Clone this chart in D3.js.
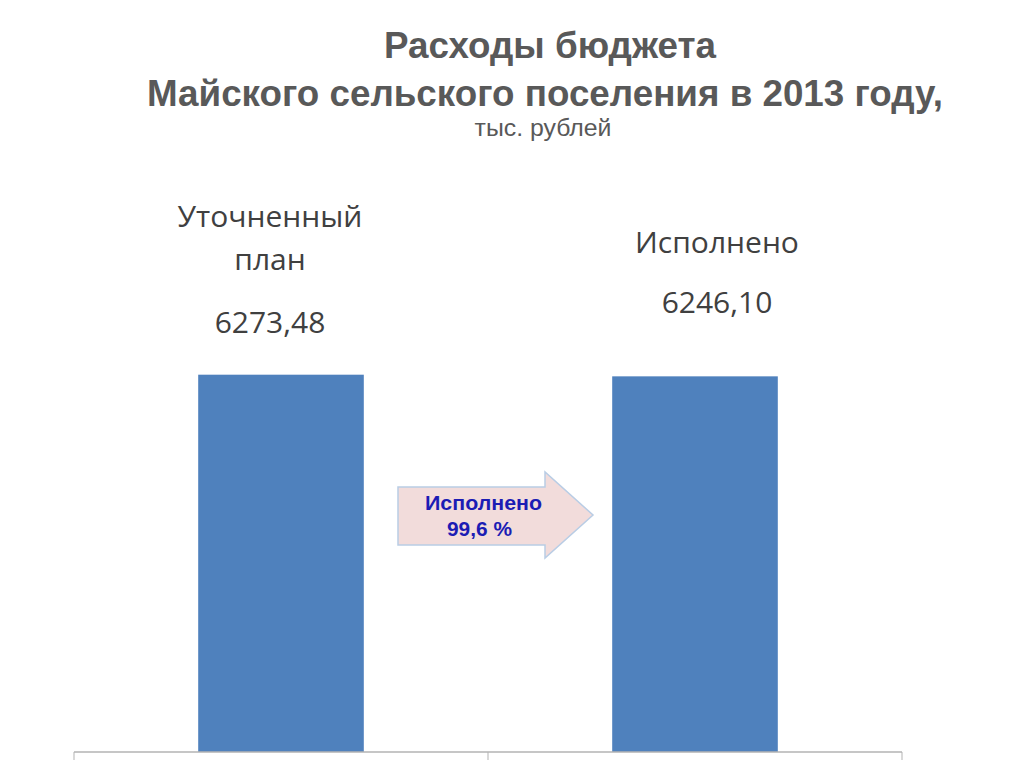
<!DOCTYPE html>
<html><head><meta charset="utf-8">
<script src="https://cdn.jsdelivr.net/npm/d3@7"></script>
<style>body{margin:0;background:#fff}svg{display:block}</style>
</head><body>
<script>
const categories = ["Уточненный план", "Исполнено"];
const categoryLines = [["Уточненный", "план"], ["Исполнено"]];
const values = [6273.48, 6246.10];
const valueLabels = ["6273,48", "6246,10"];
const titleLines = ["Расходы бюджета", "Майского сельского поселения в 2013 году,"];
const subtitle = "тыс. рублей";
const arrowText = ["Исполнено", "99,6 %"];

const W = 1024, H = 768;
const svg = d3.select("body").append("svg").attr("width", W).attr("height", H);

const x = d3.scaleBand().domain(categories).range([74, 902]).paddingInner(0.6).paddingOuter(0.3);
const y = d3.scaleLinear().domain([0, 7000]).range([752, 331]);

// title
const tFont = "Liberation Sans, Arial, sans-serif";
svg.append("text").attr("x", 550).attr("y", 58).attr("text-anchor", "middle")
  .attr("font-family", tFont).attr("font-weight", "bold")
  .attr("font-size", 36).attr("fill", "#595959")
  .attr("textLength", 332).attr("lengthAdjust", "spacingAndGlyphs").text(titleLines[0]);
svg.append("text").attr("x", 545).attr("y", 106).attr("text-anchor", "middle")
  .attr("font-family", tFont).attr("font-weight", "bold")
  .attr("font-size", 36).attr("fill", "#595959")
  .attr("textLength", 796).attr("lengthAdjust", "spacingAndGlyphs").text(titleLines[1]);
svg.append("text").attr("x", 543).attr("y", 136).attr("text-anchor", "middle")
  .attr("font-family", tFont)
  .attr("font-size", 24).attr("fill", "#595959")
  .attr("textLength", 137).attr("lengthAdjust", "spacingAndGlyphs").text(subtitle);

// bars
svg.selectAll("rect.bar").data(values).join("rect").attr("class", "bar")
  .attr("x", (d, i) => x(categories[i])).attr("width", x.bandwidth())
  .attr("y", d => y(d)).attr("height", d => y(0) - y(d))
  .attr("fill", "#4f81bd");

// axis
const axis = svg.append("g").attr("transform", `translate(0,${y(0)})`);
axis.append("line").attr("x1", 74).attr("x2", 902).attr("stroke", "#b3b3b3").attr("stroke-width", 1.5);
const tickXs = [74].concat(categories.map(c => x(c) + x.bandwidth() / 2 + x.step() / 2));
axis.selectAll("line.tick").data(tickXs).join("line").attr("class", "tick")
  .attr("x1", d => d).attr("x2", d => d).attr("y1", 0).attr("y2", 8)
  .attr("stroke", "#b3b3b3").attr("stroke-width", 1);

// category labels and values
const labelFont = "Open Sans, Lato, sans-serif";
const catY = [[227, 270], [253]];
const valY = [333, 313];
categories.forEach((c, i) => {
  const cx = x(c) + x.bandwidth() / 2 - 11 + i * 33;
  categoryLines[i].forEach((ln, j) => {
    svg.append("text").attr("x", cx).attr("y", catY[i][j]).attr("text-anchor", "middle")
      .attr("font-family", labelFont).attr("font-size", 30).attr("fill", "#404040").text(ln);
  });
  svg.append("text").attr("x", cx).attr("y", valY[i]).attr("text-anchor", "middle")
    .attr("font-family", labelFont).attr("font-size", 30).attr("fill", "#404040").text(valueLabels[i]);
});

// arrow
const ax0 = 398, ax1 = 545, ax2 = 593, ay0 = 472, ay1 = 487, ay2 = 545, ay3 = 558, aym = 515;
svg.append("path")
  .attr("d", `M${ax0},${ay1} L${ax1},${ay1} L${ax1},${ay0} L${ax2},${aym} L${ax1},${ay3} L${ax1},${ay2} L${ax0},${ay2} Z`)
  .attr("fill", "#f2dcdb").attr("stroke", "#b9cde5").attr("stroke-width", 1.5);
svg.append("text").attr("x", 483.5).attr("y", 510).attr("text-anchor", "middle")
  .attr("font-family", tFont).attr("font-weight", "bold")
  .attr("font-size", 21).attr("fill", "#1c1cb4")
  .attr("textLength", 117).attr("lengthAdjust", "spacingAndGlyphs").text(arrowText[0]);
svg.append("text").attr("x", 479.5).attr("y", 536).attr("text-anchor", "middle")
  .attr("font-family", tFont).attr("font-weight", "bold")
  .attr("font-size", 21).attr("fill", "#1c1cb4")
  .attr("textLength", 65).attr("lengthAdjust", "spacingAndGlyphs").text(arrowText[1]);
</script>
</body></html>
